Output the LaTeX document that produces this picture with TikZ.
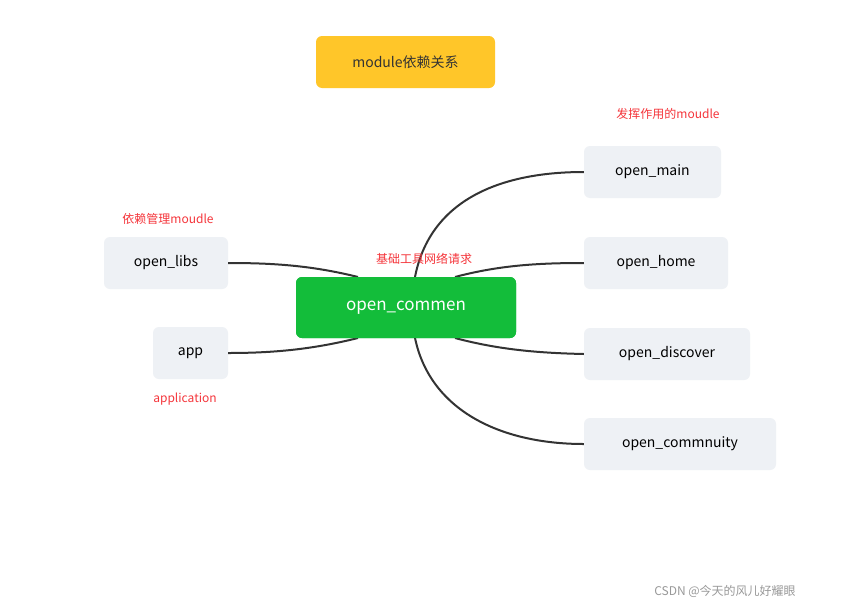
\documentclass[tikz,border=0pt]{standalone}
\usepackage{fontspec}
\setmainfont{Noto Sans CJK SC}
\definecolor{gbox}{HTML}{EEF1F5}
\definecolor{ybox}{HTML}{FFC629}
\definecolor{gr}{HTML}{13BD3A}
\definecolor{rd}{HTML}{F5353B}
\definecolor{ln}{HTML}{333333}
\begin{document}
\begin{tikzpicture}[x=1pt,y=-1pt,
  box/.style={fill=gbox,rounded corners=6pt,inner sep=0pt,font=\fontsize{14}{16}\selectfont,text=black},
  lbl/.style={text=rd,font=\fontsize{12}{14}\selectfont,inner sep=0pt},
  conn/.style={draw=ln,line width=2pt}]
\useasboundingbox[fill=white] (0,0) rectangle (845,608);
\node[box,fill=ybox,text=ln,minimum width=179pt,minimum height=52pt] (title) at (405.5,62) {module依赖关系};
\node[box,fill=gr,text=white,minimum width=220pt,minimum height=61pt,font=\fontsize{17}{20}\selectfont] (c) at (406,307.5) {open\_commen};
\node[box,minimum width=137pt,minimum height=52pt] (m) at (652.5,172) {open\_main};
\node[box,minimum width=144pt,minimum height=52pt] (h) at (656,263) {open\_home};
\node[box,minimum width=166pt,minimum height=52pt] (d) at (667,354) {open\_discover};
\node[box,minimum width=192pt,minimum height=52pt] (u) at (680,444) {open\_commnuity};
\node[box,minimum width=124pt,minimum height=52pt] (l) at (166,263) {open\_libs};
\node[box,minimum width=75pt,minimum height=52pt] (a) at (190.5,353) {app};
\begin{scope}[on background layer/.try]
\end{scope}
\draw[conn] (415,277) .. controls (430,200) and (500,172) .. (m.west);
\draw[conn] (455,277) .. controls (500,265) and (540,263) .. (h.west);
\draw[conn] (455,338) .. controls (500,350) and (540,353) .. (d.west);
\draw[conn] (415,338) .. controls (430,410) and (500,444) .. (u.west);
\draw[conn] (358,277) .. controls (310,265) and (270,263) .. (l.east);
\draw[conn] (358,338) .. controls (310,350) and (270,353) .. (a.east);
\node[box,fill=gr,text=white,minimum width=220pt,minimum height=61pt,font=\fontsize{17}{20}\selectfont] at (406,307.5) {open\_commen};
\node[lbl] (t1) at (668,114) {发挥作用的moudle};
\node[lbl] (t2) at (168,219) {依赖管理moudle};
\node[lbl] (t3) at (424,259) {基础工具网络请求};
\node[lbl] (t4) at (185,399) {application};
\node[text=gray!80,font=\fontsize{12}{14}\selectfont,inner sep=0pt] (wm) at (725,591) {CSDN @今天的风儿好耀眼};
\end{tikzpicture}
\end{document}
